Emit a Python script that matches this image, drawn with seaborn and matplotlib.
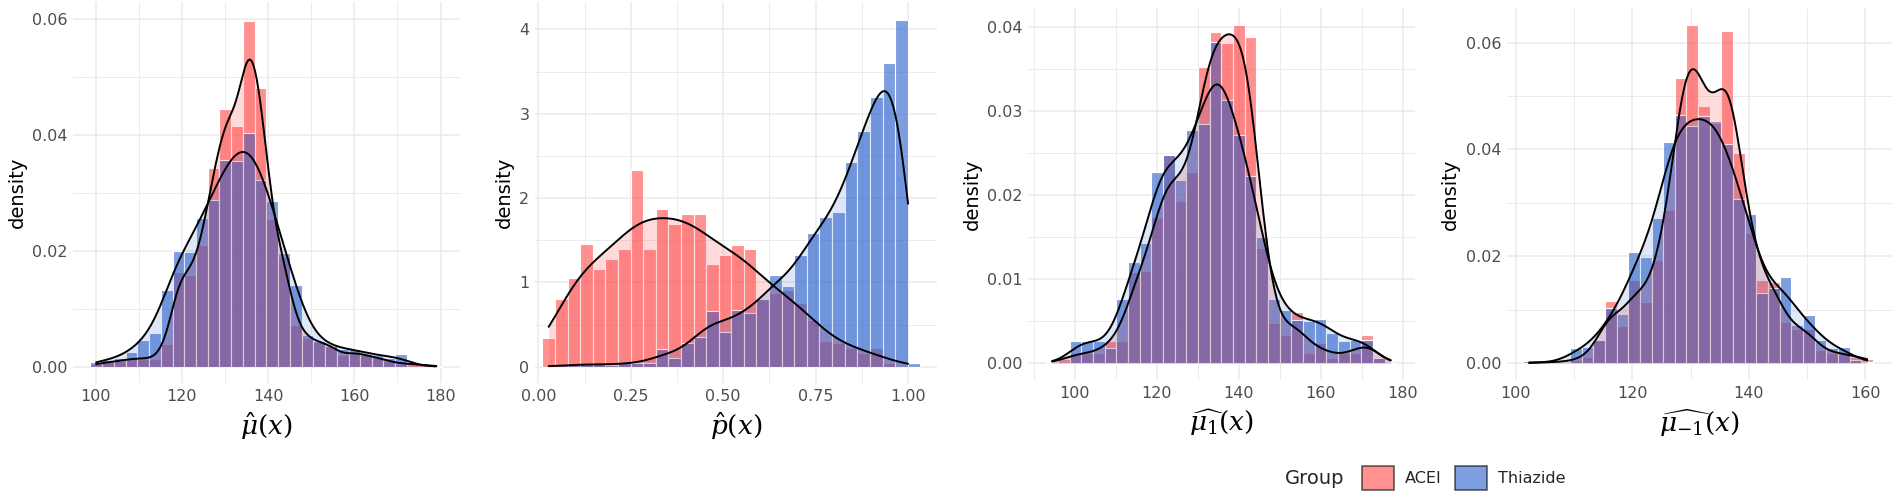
import numpy as np
import pandas as pd
import matplotlib
matplotlib.use("Agg")
import matplotlib.pyplot as plt
import seaborn as sns
from matplotlib.patches import Patch
from matplotlib.ticker import FixedLocator

# ---------------- data ----------------
groups = ["ACEI", "Thiazide"]

mu_bins = [100.1, 102.9, 105.6, 108.3, 111.0, 113.7, 116.5, 119.2, 121.9, 124.6,
           127.3, 130.1, 132.8, 135.5, 138.2, 140.9, 143.7, 146.4, 149.1, 151.8,
           154.5, 157.3, 160.0, 162.7, 165.4, 168.1, 170.9, 173.6, 176.3, 179.0]
mu_acei = [0.0005, 0.0008, 0.0010, 0.0014, 0.0014, 0.0014, 0.0040, 0.0164, 0.0158, 0.0210,
           0.0342, 0.0444, 0.0415, 0.0597, 0.0480, 0.0254, 0.0190, 0.0072, 0.0050, 0.0042,
           0.0038, 0.0020, 0.0025, 0.0020, 0.0015, 0.0010, 0.0005, 0.0005, 0.0003, 0.0001]
mu_thia = [0.0009, 0.0012, 0.0015, 0.0026, 0.0046, 0.0058, 0.0132, 0.0199, 0.0198, 0.0256,
           0.0288, 0.0357, 0.0354, 0.0403, 0.0322, 0.0286, 0.0196, 0.0141, 0.0055, 0.0045,
           0.0035, 0.0030, 0.0030, 0.0022, 0.0020, 0.0015, 0.0022, 0.0000, 0.0000, 0.0001]

p_bins = [0.028, 0.062, 0.096, 0.130, 0.164, 0.198, 0.232, 0.267, 0.301, 0.335,
          0.369, 0.403, 0.437, 0.471, 0.505, 0.539, 0.573, 0.607, 0.641, 0.675,
          0.709, 0.743, 0.778, 0.812, 0.846, 0.880, 0.914, 0.948, 0.982, 1.016]
p_acei = [0.336, 0.80, 1.047, 1.45, 1.154, 1.28, 1.395, 2.33, 1.395, 1.866,
          1.69, 1.806, 1.806, 1.213, 1.33, 1.443, 1.39, 0.80, 0.87, 0.91,
          0.75, 0.55, 0.30, 0.28, 0.22, 0.16, 0.22, 0.05, 0.0, 0.0]
p_thia = [0.0, 0.02, 0.02, 0.03, 0.03, 0.02, 0.04, 0.05, 0.04, 0.205,
          0.10, 0.277, 0.356, 0.664, 0.41, 0.67, 0.64, 0.80, 1.09, 0.957,
          1.32, 1.58, 1.78, 1.83, 2.43, 2.80, 3.20, 3.60, 4.11, 0.04]

mu1_bins = [94.4, 97.25, 100.1, 102.95, 105.8, 108.65, 111.5, 114.35, 117.2, 120.05,
            122.9, 125.75, 128.6, 131.45, 134.3, 137.15, 140.0, 142.85, 145.7, 148.55,
            151.4, 154.25, 157.1, 159.95, 162.8, 165.65, 168.5, 171.35, 174.2, 177.05]
mu1_acei = [0.0, 0.0005, 0.0012, 0.0012, 0.0012, 0.0027, 0.0027, 0.0109, 0.0110, 0.0174,
            0.0248, 0.0193, 0.0227, 0.0352, 0.0394, 0.0380, 0.0402, 0.0387, 0.0137, 0.0048,
            0.0034, 0.0061, 0.0012, 0.0024, 0.0006, 0.0012, 0.0012, 0.0034, 0.0006, 0.0]
mu1_thia = [0.0002, 0.0, 0.0026, 0.0026, 0.0026, 0.0018, 0.0076, 0.0120, 0.0143, 0.0227,
            0.0248, 0.0218, 0.0277, 0.0284, 0.0382, 0.0313, 0.0271, 0.0222, 0.0150, 0.0076,
            0.0063, 0.0052, 0.0050, 0.0053, 0.0036, 0.0027, 0.0028, 0.0028, 0.0006, 0.0]

mum1_bins = [102.3, 104.3, 106.3, 108.3, 110.3, 112.3, 114.3, 116.3, 118.3, 120.3,
             122.3, 124.3, 126.3, 128.3, 130.3, 132.3, 134.3, 136.3, 138.3, 140.3,
             142.3, 144.3, 146.3, 148.3, 150.3, 152.3, 154.3, 156.3, 158.3, 160.3]
mum1_acei = [0.0, 0.0002, 0.0002, 0.0003, 0.0006, 0.0012, 0.0044, 0.0117, 0.0069, 0.0156,
             0.0115, 0.0193, 0.0287, 0.0533, 0.0632, 0.0481, 0.0450, 0.0621, 0.0394, 0.0243,
             0.0156, 0.0153, 0.0078, 0.0065, 0.0065, 0.0025, 0.0019, 0.0019, 0.0012, 0.0009]
mum1_thia = [0.0004, 0.0, 0.0002, 0.0003, 0.0028, 0.0031, 0.0044, 0.0103, 0.0093, 0.0209,
             0.0199, 0.0271, 0.0414, 0.0464, 0.0444, 0.0462, 0.0454, 0.0410, 0.0307, 0.0280,
             0.0131, 0.0140, 0.0162, 0.0072, 0.0090, 0.0044, 0.0028, 0.0031, 0.0006, 0.0003]

x_labels = [r"$\hat{\mu}(x)$", r"$\hat{p}(x)$", r"$\widehat{\mu_1}(x)$", r"$\widehat{\mu_{-1}}(x)$"]
x_ticks = [[100, 120, 140, 160, 180], [0.0, 0.25, 0.5, 0.75, 1.0],
           [100, 120, 140, 160, 180], [100, 120, 140, 160]]
x_ticklabels = [["100", "120", "140", "160", "180"], ["0.00", "0.25", "0.50", "0.75", "1.00"],
                ["100", "120", "140", "160", "180"], ["100", "120", "140", "160"]]
y_ticks = [[0.0, 0.02, 0.04, 0.06], [0, 1, 2, 3, 4], [0.0, 0.01, 0.02, 0.03, 0.04],
           [0.0, 0.02, 0.04, 0.06]]
y_ticklabels = [["0.00", "0.02", "0.04", "0.06"], ["0", "1", "2", "3", "4"],
                ["0.00", "0.01", "0.02", "0.03", "0.04"], ["0.00", "0.02", "0.04", "0.06"]]

# ---------------- style ----------------
sns.set_theme(style="white")
plt.rcParams["font.family"] = ["DejaVu Sans"]
plt.rcParams["mathtext.fontset"] = "dejavuserif"

RED = "#FF4848"
BLUE = "#2660CC"
colors = {"ACEI": RED, "Thiazide": BLUE}
GRID = "#EBEBEB"
TICKC = "#4D4D4D"

# (bins, acei, thiazide, xlim, ylim, kde bandwidth factors, kde clip)
panels = [
    (mu_bins, mu_acei, mu_thia, (94.74, 184.5), (-0.0028, 0.0629), (0.20, 0.27), (None, None)),
    (p_bins, p_acei, p_thia, (-0.009, 1.0775), (-0.193, 4.324), (0.30, 0.235), (0.0, 1.0)),
    (mu1_bins, mu1_acei, mu1_thia, (88.6, 183.0), (-0.00198, 0.0422), (0.25, 0.22), (None, None)),
    (mum1_bins, mum1_acei, mum1_thia, (98.46, 164.5), (-0.00312, 0.0664), (0.23, 0.26), (None, None)),
]
minor_x = [[110, 130, 150, 170], [0.125, 0.375, 0.625, 0.875, 1.125],
           [90, 110, 130, 150, 170], [110, 130, 150]]
minor_y = [[0.01, 0.03, 0.05], [0.5, 1.5, 2.5, 3.5], [0.005, 0.015, 0.025, 0.035],
           [0.01, 0.03, 0.05]]

W, H = 1894, 496
fig = plt.figure(figsize=(W / 100, H / 100), dpi=100)
rects = [(73, 2, 460, 383), (535, 2, 936.7, 383), (1028.3, 8, 1415, 380), (1506.7, 8.3, 1891.7, 380)]

for i, (bins, acei, thia, xl, yl, bws, clip) in enumerate(panels):
    l, t, r, b = rects[i]
    ax = fig.add_axes([l / W, 1 - b / H, (r - l) / W, (b - t) / H])
    centers = np.asarray(bins, dtype=float)
    mids = (centers[1:] + centers[:-1]) / 2
    edges = np.concatenate([[centers[0] - (mids[0] - centers[0])], mids,
                            [centers[-1] + (centers[-1] - mids[-1])]]).tolist()
    df = pd.DataFrame({
        "x": np.concatenate([centers, centers]),
        "h": np.concatenate([acei, thia]),
        "Group": [groups[0]] * len(centers) + [groups[1]] * len(centers),
    })
    # histograms (ACEI first, Thiazide on top)
    for g in groups:
        sub = df[df.Group == g]
        sns.histplot(data=sub, x="x", weights="h", bins=edges, stat="count",
                     color=colors[g], alpha=0.6, edgecolor="white", linewidth=0.8,
                     ax=ax, zorder=2)
    # density fills and lines
    for g, bw, fa in zip(groups, bws, (0.2, 0.15)):
        sub = df[df.Group == g]
        sns.kdeplot(data=sub, x="x", weights="h", bw_method=bw, cut=0, clip=clip,
                    fill=True, color=colors[g], alpha=fa, linewidth=0, ax=ax, zorder=3)
    for g, bw in zip(groups, bws):
        sub = df[df.Group == g]
        sns.kdeplot(data=sub, x="x", weights="h", bw_method=bw, cut=0, clip=clip,
                    fill=False, color="black", linewidth=1.4, ax=ax, zorder=4)
    ax.set_xlim(*xl)
    ax.set_ylim(*yl)
    ax.set_xticks(x_ticks[i])
    ax.set_xticklabels(x_ticklabels[i])
    ax.set_yticks(y_ticks[i])
    ax.set_yticklabels(y_ticklabels[i])
    ax.xaxis.set_minor_locator(FixedLocator(minor_x[i]))
    ax.yaxis.set_minor_locator(FixedLocator(minor_y[i]))
    ax.grid(True, which="major", color=GRID, linewidth=1.1, zorder=0)
    ax.grid(True, which="minor", color=GRID, linewidth=0.7, zorder=0)
    ax.set_axisbelow(True)
    for s in ax.spines.values():
        s.set_visible(False)
    ax.tick_params(which="both", length=0, labelsize=11.5, labelcolor=TICKC, pad=4)
    ax.set_xlabel(x_labels[i], fontsize=19, color="black", labelpad=5)
    ax.set_ylabel("density", fontsize=14, color="black", labelpad=4)

# legend
fig.text(1285 / W, 1 - 478 / H, "Group", fontsize=14, ha="left", va="center")
handles = [Patch(facecolor=RED, alpha=0.6, edgecolor="black", linewidth=1.2),
           Patch(facecolor=BLUE, alpha=0.6, edgecolor="black", linewidth=1.2)]
leg = fig.legend(handles, groups, ncol=2, loc="center left",
                 bbox_to_anchor=(1362 / W, 1 - 478 / H), frameon=False, fontsize=11.5,
                 handlelength=2.0, handleheight=2.0, handletextpad=0.7,
                 columnspacing=0.8, borderpad=0, borderaxespad=0)
for hp in leg.legend_handles:
    hp.set_edgecolor((0, 0, 0, 1))

fig.savefig("out.png", dpi=100)
